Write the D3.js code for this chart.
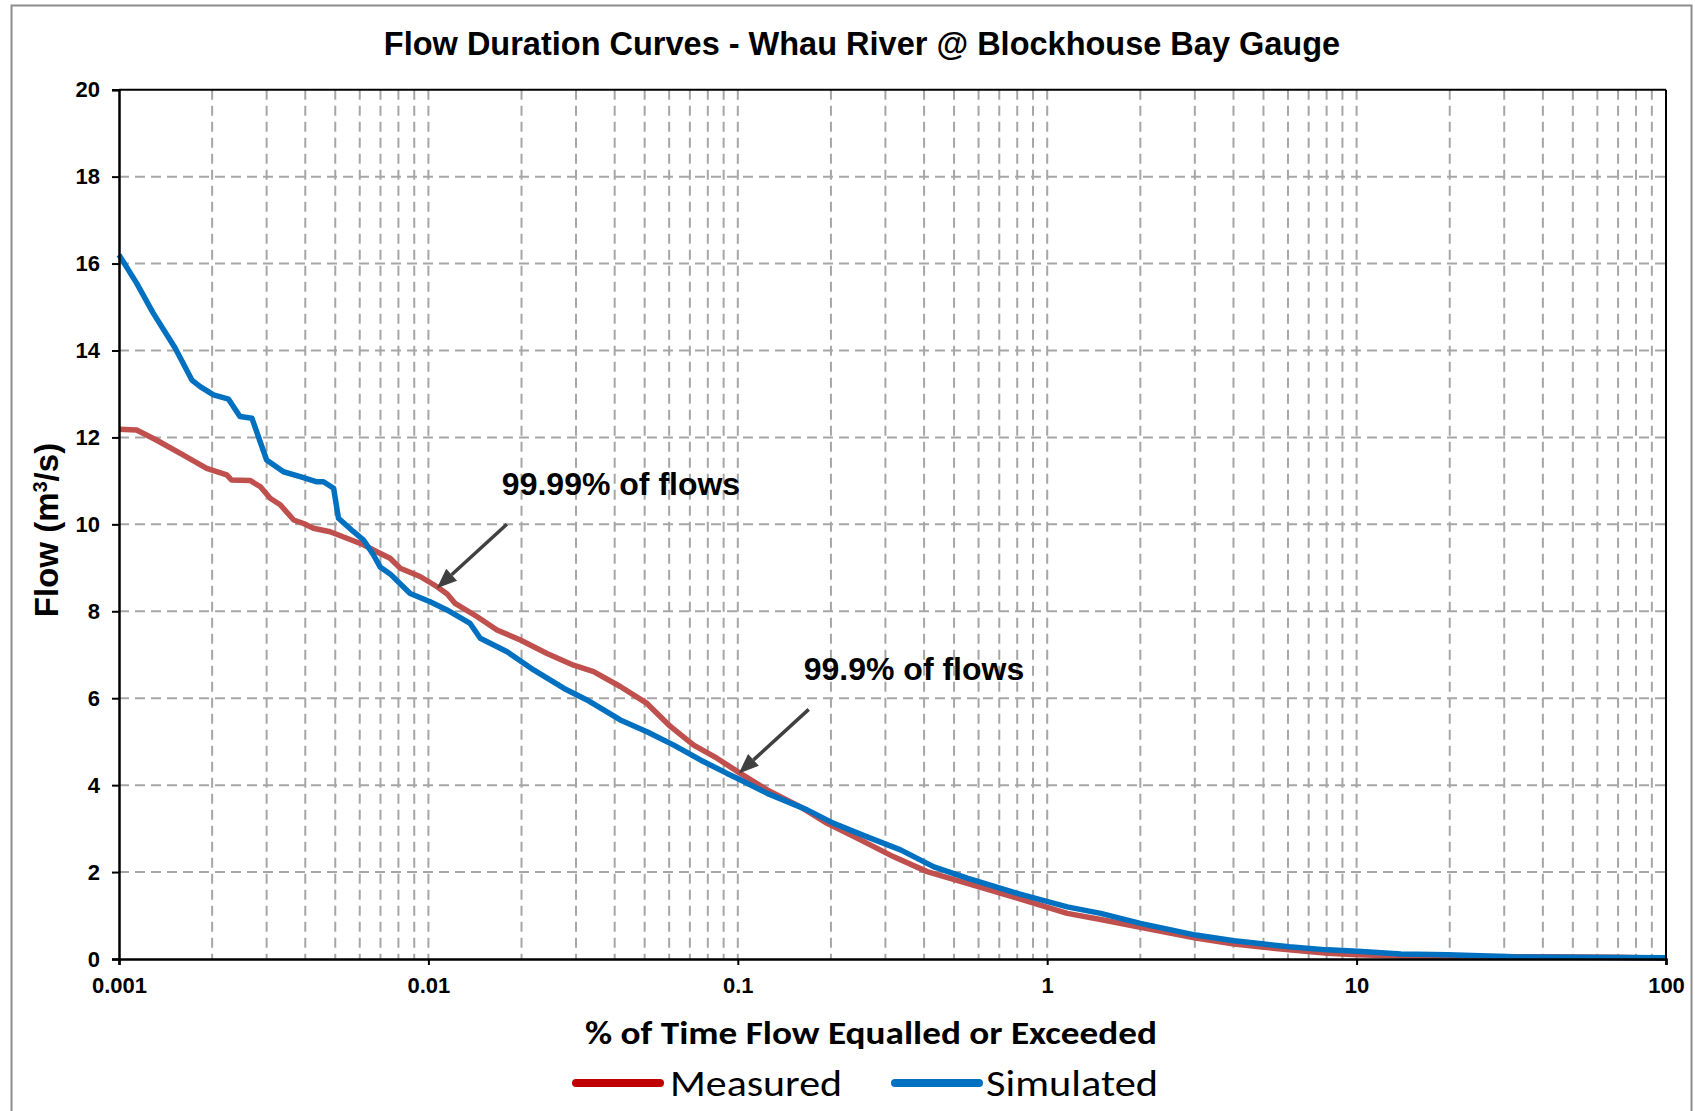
<!DOCTYPE html>
<html><head><meta charset="utf-8">
<script src="https://cdn.jsdelivr.net/npm/d3@7"></script>
<style>body{margin:0;background:#fff;} svg{display:block;}</style>
</head><body>
<svg id="chart" width="1695" height="1111"></svg>
<script>
const chartTitle = "Flow Duration Curves - Whau River @ Blockhouse Bay Gauge";
const xAxisTitle = "% of Time Flow Equalled or Exceeded";
const xTickValues = [0.001, 0.01, 0.1, 1, 10, 100];
const xTickLabels = ["0.001", "0.01", "0.1", "1", "10", "100"];
const yTickValues = [0, 2, 4, 6, 8, 10, 12, 14, 16, 18, 20];
const seriesNames = ["Measured", "Simulated"];

const measuredPct = [0.001, 0.00114, 0.00132, 0.00161, 0.00192, 0.00223, 0.00231, 0.00265, 0.00286, 0.00308, 0.00332, 0.00367, 0.00395, 0.00425, 0.00481, 0.00545, 0.00617, 0.00681, 0.00752, 0.00811, 0.0094, 0.01064, 0.0115, 0.0122, 0.01434, 0.01666, 0.01983, 0.02417, 0.02946, 0.03419, 0.0417, 0.05086, 0.06055, 0.072, 0.0856, 0.1019, 0.1245, 0.1594, 0.1944, 0.2491, 0.3193, 0.4091, 0.5514, 0.80, 1.161, 1.489, 2.0, 3.02, 4.02, 5.02, 6.05, 8.05, 10.07, 13.9, 20, 40, 70, 100];
const measuredFlow = [12.19, 12.17, 11.94, 11.60, 11.29, 11.14, 11.02, 11.01, 10.87, 10.60, 10.45, 10.10, 10.02, 9.91, 9.83, 9.68, 9.53, 9.37, 9.22, 8.99, 8.80, 8.57, 8.40, 8.18, 7.88, 7.57, 7.34, 7.03, 6.76, 6.61, 6.27, 5.88, 5.35, 4.92, 4.62, 4.27, 3.89, 3.50, 3.12, 2.74, 2.35, 2.01, 1.74, 1.40, 1.05, 0.91, 0.73, 0.48, 0.345, 0.27, 0.21, 0.13, 0.10, 0.07, 0.06, 0.05, 0.04, 0.02];

const simulatedPct = [0.001, 0.00114, 0.00129, 0.00152, 0.00172, 0.00183, 0.00202, 0.00226, 0.00246, 0.00269, 0.003, 0.0034, 0.00385, 0.00436, 0.00458, 0.00494, 0.00512, 0.00573, 0.00617, 0.00664, 0.00698, 0.00752, 0.00873, 0.01013, 0.01148, 0.01364, 0.01471, 0.01796, 0.02188, 0.02735, 0.03254, 0.0417, 0.05086, 0.06209, 0.07568, 0.0923, 0.0995, 0.1245, 0.1675, 0.2042, 0.2618, 0.3357, 0.4303, 0.5514, 0.80, 1.161, 1.489, 2.0, 3.02, 4.02, 5.02, 6.05, 8.05, 10.07, 13.9, 19.7, 32, 50, 100];
const simulatedFlow = [16.2, 15.55, 14.86, 14.05, 13.32, 13.17, 12.98, 12.88, 12.48, 12.44, 11.48, 11.21, 11.10, 10.98, 10.98, 10.83, 10.14, 9.83, 9.64, 9.30, 9.02, 8.86, 8.41, 8.22, 8.03, 7.72, 7.38, 7.07, 6.65, 6.23, 5.96, 5.50, 5.23, 4.92, 4.58, 4.27, 4.16, 3.81, 3.43, 3.12, 2.81, 2.51, 2.12, 1.86, 1.51, 1.20, 1.05, 0.82, 0.55, 0.42, 0.345, 0.28, 0.21, 0.18, 0.115, 0.10, 0.05, 0.04, 0.03];

const annotationText = ["99.99% of flows", "99.9% of flows"];
const annotationPct = [0.01065, 0.1007];
const annotationFlow = [8.53, 4.27];

const svg = d3.select("#chart");
const plot = {left: 119, right: 1666, top: 89.7, bottom: 959};

const x = d3.scaleLog().domain([0.001, 100]).range([plot.left, plot.right]);
const y = d3.scaleLinear().domain([0, 20]).range([plot.bottom, plot.top]);

// outer frame
svg.append("rect").attr("x", 11.5).attr("y", 5.5).attr("width", 1680).attr("height", 1130)
  .attr("fill", "#fff").attr("stroke", "#8c8c8c").attr("stroke-width", 2);

// title
svg.append("text").attr("x", 862).attr("y", 55).attr("text-anchor", "middle")
  .attr("font-family", "'Liberation Sans', Arial, sans-serif").attr("font-weight", "bold")
  .attr("font-size", 32.5).attr("fill", "#000").text(chartTitle);

// grid
const gridColor = "#a6a6a6";
const minorX = [];
for (let e = -3; e < 2; e++) {
  for (let k = 1; k <= 9; k++) {
    const v = k * Math.pow(10, e);
    if (v > 0.0011) minorX.push(+v.toPrecision(3));
  }
}
const grid = svg.append("g");
grid.selectAll("line.vx").data(minorX).enter().append("line")
  .attr("x1", d => x(d)).attr("x2", d => x(d)).attr("y1", plot.top).attr("y2", plot.bottom)
  .attr("stroke", gridColor).attr("stroke-width", 2).attr("stroke-dasharray", "10,6");
grid.selectAll("line.hy").data(yTickValues.filter(v => v > 0 && v < 20)).enter().append("line")
  .attr("y1", d => y(d)).attr("y2", d => y(d)).attr("x1", plot.left).attr("x2", plot.right)
  .attr("stroke", gridColor).attr("stroke-width", 2).attr("stroke-dasharray", "10,6");

// curves
const line = d3.line().x(d => x(d[0])).y(d => y(d[1]));
const measured = measuredPct.map((p, i) => [p, measuredFlow[i]]);
const simulated = simulatedPct.map((p, i) => [p, simulatedFlow[i]]);
svg.append("path").datum(measured).attr("d", line).attr("fill", "none")
  .attr("stroke", "#C0504D").attr("stroke-width", 5.5).attr("stroke-linejoin", "round");
svg.append("path").datum(simulated).attr("d", line).attr("fill", "none")
  .attr("stroke", "#0070C0").attr("stroke-width", 5.5).attr("stroke-linejoin", "round");

// plot frame (top, right)
svg.append("line").attr("x1", plot.left).attr("x2", plot.right).attr("y1", plot.top).attr("y2", plot.top)
  .attr("stroke", "#000").attr("stroke-width", 2);
svg.append("line").attr("x1", plot.right).attr("x2", plot.right).attr("y1", plot.top).attr("y2", plot.bottom)
  .attr("stroke", "#000").attr("stroke-width", 2);

// axes
const xAxis = d3.axisBottom(x).tickValues(xTickValues).tickFormat((d, i) => xTickLabels[i]).tickSize(6).tickPadding(12);
const gx = svg.append("g").attr("transform", `translate(0,${plot.bottom})`).call(xAxis);
gx.select(".domain").attr("stroke", "#000").attr("stroke-width", 2.5);
gx.selectAll(".tick line").attr("stroke", "#000").attr("stroke-width", 2);
gx.selectAll(".tick text").attr("font-family", "'Liberation Sans', Arial, sans-serif")
  .attr("font-weight", "bold").attr("font-size", 22).attr("fill", "#000").attr("dy", "0.72em");

const yAxis = d3.axisLeft(y).tickValues(yTickValues).tickFormat(d3.format("d")).tickSize(7).tickPadding(12);
const gy = svg.append("g").attr("transform", `translate(${plot.left},0)`).call(yAxis);
gy.select(".domain").attr("stroke", "#000").attr("stroke-width", 2.5);
gy.selectAll(".tick line").attr("stroke", "#000").attr("stroke-width", 2);
gy.selectAll(".tick text").attr("font-family", "'Liberation Sans', Arial, sans-serif")
  .attr("font-weight", "bold").attr("font-size", 22).attr("fill", "#000");

// y axis title
const yt = svg.append("text").attr("transform", "translate(58,530) rotate(-90)").attr("text-anchor", "middle")
  .attr("font-family", "'Liberation Sans', Arial, sans-serif").attr("font-weight", "bold").attr("font-size", 33).attr("fill", "#000");
yt.append("tspan").text("Flow (m");
yt.append("tspan").attr("baseline-shift", "super").attr("font-size", 20).text("3");
yt.append("tspan").text("/s)");

// x axis title
svg.append("text").attr("x", 871).attr("y", 1044).attr("text-anchor", "middle")
  .attr("font-family", "Carlito, Calibri, Lato, sans-serif").attr("font-weight", "bold").attr("font-size", 32)
  .attr("textLength", 572).attr("lengthAdjust", "spacingAndGlyphs").attr("fill", "#000").text(xAxisTitle);

// annotations
const arrowColor = "#404040";
annotationText.forEach((t, i) => {
  const tx = x(annotationPct[i]), ty = y(annotationFlow[i]);
  const sx = tx + 70, sy = ty - 64;
  const ang = Math.atan2(ty - sy, tx - sx);
  const hl = 20, hw = 8;
  const bx = tx - hl * Math.cos(ang), by = ty - hl * Math.sin(ang);
  svg.append("line").attr("x1", sx).attr("y1", sy).attr("x2", bx).attr("y2", by)
    .attr("stroke", arrowColor).attr("stroke-width", 3.5);
  const px = -Math.sin(ang), py = Math.cos(ang);
  svg.append("polygon").attr("points", [[tx, ty], [bx + hw * px, by + hw * py], [bx - hw * px, by - hw * py]].map(p => p.join(",")).join(" "))
    .attr("fill", arrowColor);
  svg.append("text").attr("x", tx + 65).attr("y", ty - 93)
    .attr("font-family", "'Liberation Sans', Arial, sans-serif").attr("font-weight", "bold").attr("font-size", 32)
    .attr("fill", "#000").text(t);
});

// legend
const legendColors = ["#C00000", "#0070C0"];
const legendLineX = [576, 895];
const legendTextX = [670, 986];
seriesNames.forEach((n, i) => {
  svg.append("line").attr("x1", legendLineX[i]).attr("x2", legendLineX[i] + 84).attr("y1", 1083).attr("y2", 1083)
    .attr("stroke", legendColors[i]).attr("stroke-width", 8).attr("stroke-linecap", "round");
  svg.append("text").attr("x", legendTextX[i]).attr("y", 1096)
    .attr("font-family", "Carlito, Calibri, Lato, sans-serif").attr("font-size", 37)
    .attr("textLength", 172).attr("lengthAdjust", "spacingAndGlyphs").attr("fill", "#000").text(n);
});
</script>
</body></html>
